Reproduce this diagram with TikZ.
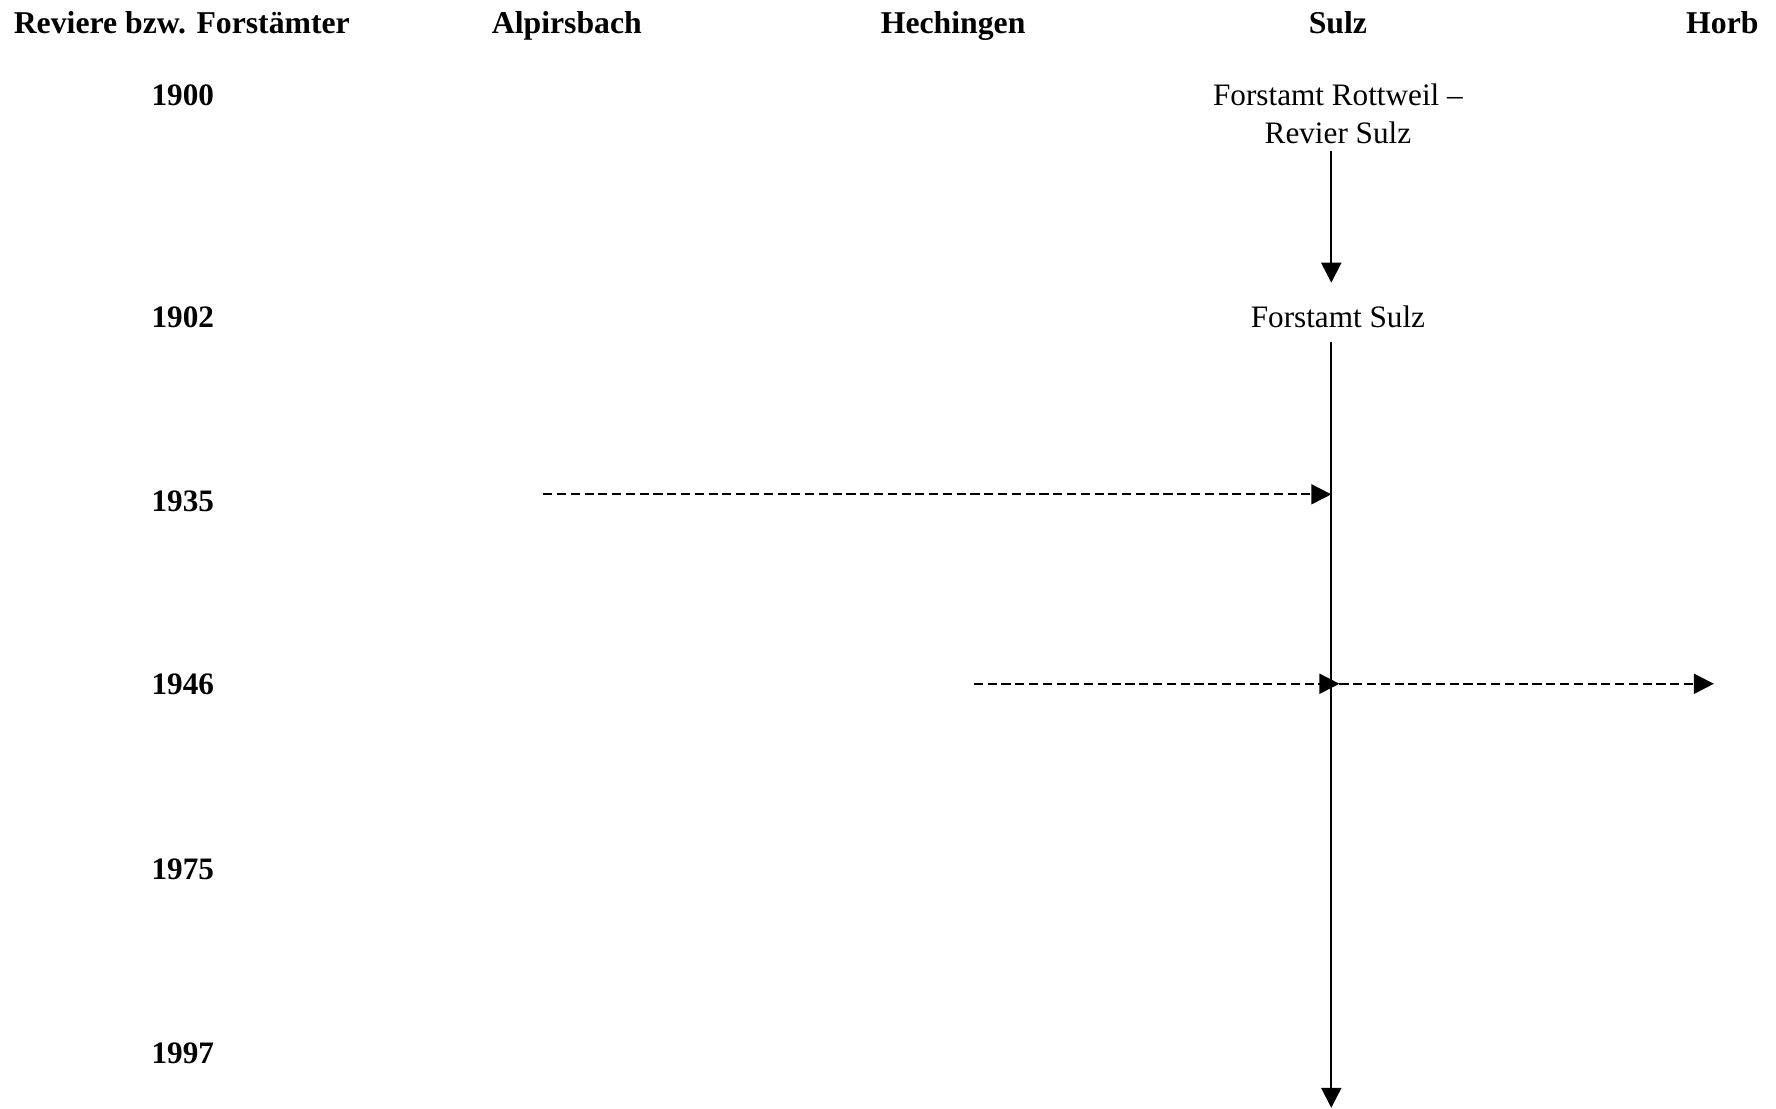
\documentclass[tikz,border=0pt]{standalone}
\usepackage{fontspec}
\setmainfont{Liberation Serif}
\usepackage{tikz}
\usetikzlibrary{positioning, arrows.meta}

\begin{document}
\begin{tikzpicture}[font=\fontsize{12}{14.5}\selectfont,
    >={Triangle[length=2.7mm, width=2.7mm]},
    head/.style={font=\fontsize{12.2}{14.5}\selectfont\bfseries, inner sep=0pt, anchor=base},
    yr/.style={font=\fontsize{12}{14.5}\selectfont\bfseries, inner sep=0pt, anchor=base},
    amt/.style={align=center, inner sep=0pt},
    flow/.style={->, line width=0.8pt},
    move/.style={->, line width=0.7pt, dash pattern=on 3.5pt off 1.8pt}]
  \useasboundingbox (0,0) rectangle (24,-14.986);
  % column heads
  \node[head, anchor=base west] (hdr)   at (0.18,-0.45)  {Reviere bzw. Forstämter};
  \node[head]                   (alp)   at (7.66,-0.45)  {Alpirsbach};
  \node[head]                   (hech)  at (12.88,-0.45) {Hechingen};
  \node[head]                   (sulzh) at (18.08,-0.45) {Sulz};
  \node[head, anchor=base east] (horb)  at (23.77,-0.45) {Horb};
  % years
  \node[yr] (y1900) at (2.47,-1.43)  {1900};
  \node[yr] (y1902) at (2.47,-4.43)  {1902};
  \node[yr] (y1935) at (2.47,-6.91)  {1935};
  \node[yr] (y1946) at (2.47,-9.39)  {1946};
  \node[yr] (y1975) at (2.47,-11.89) {1975};
  \node[yr] (y1997) at (2.47,-14.37) {1997};
  % offices
  \node[amt] (rott)  at (18.08,-1.54) {Forstamt Rottweil --\\Revier Sulz};
  \node[amt] (fsulz) at (18.08,-4.28) {Forstamt Sulz};
  % line ends
  \coordinate (r0) at (17.99,-2.04);
  \coordinate (r1) at (17.99,-3.82);
  \coordinate (s0) at (17.99,-4.62);
  \coordinate (s1) at (17.99,-14.97);
  \coordinate (a0) at (7.34,-6.68);
  \coordinate (a1) at (17.99,-6.68);
  \coordinate (h0) at (13.16,-9.24);
  \coordinate (h1) at (18.10,-9.24);
  \coordinate (b1) at (23.16,-9.24);
  \draw[flow] (r0) -- (r1);
  \draw[flow] (s0) -- (s1);
  \draw[move] (a0) -- (a1);
  \draw[move] (h0) -- (h1);
  \draw[move] (h1) -- (b1);
\end{tikzpicture}
\end{document}
